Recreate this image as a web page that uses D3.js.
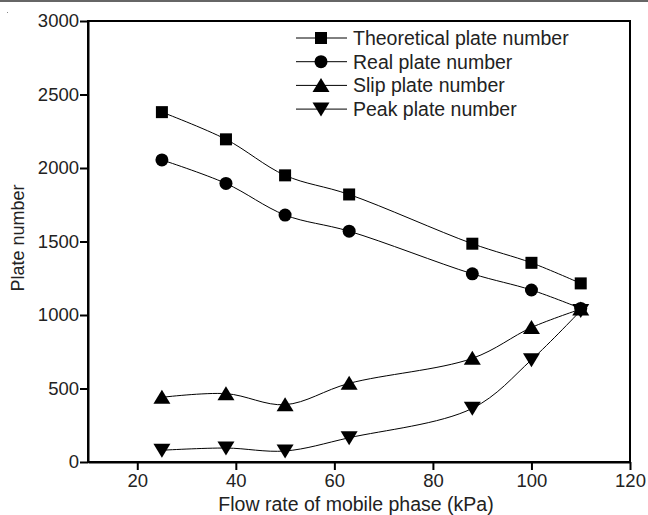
<!DOCTYPE html>
<html>
<head>
<meta charset="utf-8">
<script src="https://cdn.jsdelivr.net/npm/d3@7"></script>
<style>
  body { margin: 0; background: #fff; }
  svg { font-family: "Liberation Sans", Arial, sans-serif; }
  .axis path, .axis line { stroke: #000; stroke-width: 2; }
  .axis text { font-size: 18.5px; fill: #222; }
</style>
</head>
<body>
<svg id="chart" width="648" height="515"></svg>
<script>
const flow = [25, 38, 50, 63, 88, 100, 110]
const theoretical = [2380, 2195, 1950, 1820, 1485, 1355, 1215]
const real = [2055, 1895, 1680, 1570, 1280, 1170, 1045]
const slip = [440, 465, 390, 535, 705, 915, 1040]
const peak = [80, 95, 75, 165, 365, 695, 1030]
const seriesNames = ['Theoretical plate number', 'Real plate number', 'Slip plate number', 'Peak plate number']
const xTicks = [20, 40, 60, 80, 100, 120]
const yTicks = [0, 500, 1000, 1500, 2000, 2500, 3000]

const svg = d3.select('#chart')
const width = 648, height = 515
const margin = {top: 21, right: 18, bottom: 53, left: 88}

const xScale = d3.scaleLinear().domain([10, 120]).range([margin.left, width - margin.right])
const yScale = d3.scaleLinear().domain([0, 3000]).range([height - margin.bottom, margin.top])

// grey rule along the top edge
svg.append('rect').attr('x', 0).attr('y', 0).attr('width', width).attr('height', 2).attr('fill', '#666')
svg.append('rect').attr('x', 7).attr('y', 12).attr('width', 1).attr('height', 1).attr('fill', '#888')

const shapes = ['square', 'circle', 'up', 'down']

function marker(sel, shape) {
    if (shape === 'square') {
        sel.append('rect').attr('x', -6).attr('y', -6).attr('width', 12).attr('height', 12)
    } else if (shape === 'circle') {
        sel.append('circle').attr('r', 6.5)
    } else if (shape === 'up') {
        sel.append('path').attr('d', 'M0,-7.5L8.5,6.5L-8.5,6.5Z')
    } else {
        sel.append('path').attr('d', 'M0,7.5L8.5,-6.5L-8.5,-6.5Z')
    }
}

const series = [theoretical, real, slip, peak].map((vals, i) => ({
    name: seriesNames[i],
    shape: shapes[i],
    points: vals.map((v, j) => ({x: flow[j], y: v}))
}))

const line = d3.line()
    .x(d => xScale(d.x))
    .y(d => yScale(d.y))
    .curve(d3.curveCatmullRom.alpha(0.5))

series.forEach(s => {
    svg.append('path')
        .attr('d', line(s.points))
        .attr('fill', 'none')
        .attr('stroke', '#000')
        .attr('stroke-width', 1)
    svg.selectAll(null).data(s.points).enter().append('g')
        .attr('transform', d => `translate(${xScale(d.x)},${yScale(d.y)})`)
        .attr('fill', '#000')
        .each(function() { marker(d3.select(this), s.shape) })
})

// frame
svg.append('rect')
    .attr('x', margin.left).attr('y', margin.top)
    .attr('width', width - margin.left - margin.right)
    .attr('height', height - margin.top - margin.bottom)
    .attr('fill', 'none').attr('stroke', '#000').attr('stroke-width', 2)

const xAxis = d3.axisBottom(xScale).tickValues(xTicks).tickSize(8).tickPadding(4).tickSizeOuter(0)
const yAxis = d3.axisLeft(yScale).tickValues(yTicks).tickSize(8).tickPadding(1)
    .tickSizeOuter(0).tickFormat(d3.format('d'))

svg.append('g')
    .attr('class', 'axis')
    .attr('transform', `translate(0, ${height - margin.bottom})`)
    .call(xAxis)

svg.append('g')
    .attr('class', 'axis')
    .attr('transform', `translate(${margin.left}, 0)`)
    .call(yAxis)

svg.append('text')
    .attr('x', 356)
    .attr('y', 511)
    .attr('text-anchor', 'middle')
    .attr('font-size', 19.5)
    .attr('fill', '#222')
    .text('Flow rate of mobile phase (kPa)')

svg.append('text')
    .attr('transform', `translate(24, 238) rotate(-90)`)
    .attr('text-anchor', 'middle')
    .attr('font-size', 18)
    .attr('fill', '#222')
    .text('Plate number')

// legend
const legend = svg.append('g').attr('transform', 'translate(296, 38)')
series.forEach((s, i) => {
    const row = legend.append('g').attr('transform', `translate(0, ${i * 23.7})`)
    row.append('line').attr('x1', 0).attr('x2', 51).attr('stroke', '#000').attr('stroke-width', 1)
    const m = row.append('g').attr('transform', 'translate(25, 0)').attr('fill', '#000')
    marker(m, s.shape)
    row.append('text')
        .attr('x', 57)
        .attr('dy', '0.35em')
        .attr('font-size', 19.5)
        .attr('fill', '#222')
        .text(s.name)
})
</script>
</body>
</html>
